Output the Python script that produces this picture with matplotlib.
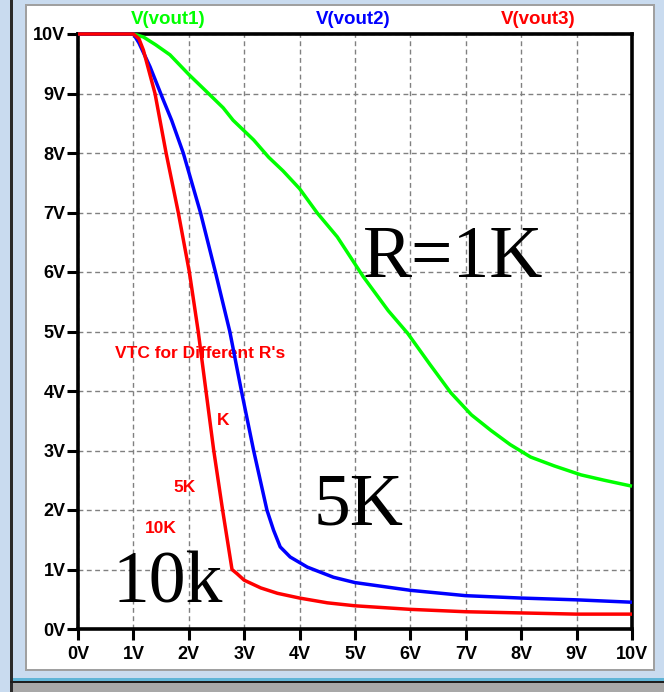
import matplotlib
matplotlib.use("Agg")
import matplotlib.pyplot as plt
from matplotlib.patches import Rectangle

# ---- data ----
x_vout1 = [0, 1.0, 1.18, 1.4, 1.66, 2.0, 2.3, 2.62, 2.8, 3.17, 3.44, 3.7, 4.0, 4.32,
           4.68, 5.15, 5.6, 5.95, 6.35, 6.73, 7.1, 7.45, 7.8, 8.17, 8.6, 9.08, 9.5, 10]
y_vout1 = [10, 10, 9.95, 9.82, 9.65, 9.32, 9.05, 8.76, 8.55, 8.22, 7.93, 7.7, 7.4, 6.99,
           6.59, 5.92, 5.35, 4.97, 4.45, 3.97, 3.6, 3.34, 3.1, 2.89, 2.74, 2.59, 2.5, 2.4]

x_vout2 = [0, 1.0, 1.1, 1.3, 1.54, 1.69, 1.9, 2.21, 2.48, 2.74, 2.95, 3.17, 3.41,
           3.53, 3.65, 3.83, 4.14, 4.61, 5.0, 6.0, 7.0, 8.0, 9.0, 10]
y_vout2 = [10, 10, 9.85, 9.45, 8.89, 8.55, 8.0, 7.0, 6.0, 5.0, 4.0, 3.0, 2.0,
           1.66, 1.38, 1.21, 1.04, 0.87, 0.78, 0.65, 0.56, 0.52, 0.49, 0.45]

x_vout3 = [0, 1.0, 1.1, 1.18, 1.39, 1.59, 1.81, 2.01, 2.17, 2.31, 2.45, 2.61, 2.78,
           2.87, 3.0, 3.3, 3.6, 4.0, 4.5, 5.0, 6.0, 7.0, 8.0, 9.0, 10]
y_vout3 = [10, 10, 9.92, 9.73, 9.0, 8.0, 7.0, 6.0, 5.0, 4.0, 3.0, 2.0, 1.0,
           0.93, 0.82, 0.69, 0.6, 0.52, 0.44, 0.39, 0.33, 0.29, 0.27, 0.25, 0.25]

series_names = ["V(vout1)", "V(vout2)", "V(vout3)"]
tick_values = list(range(11))
tick_labels = [f"{v}V" for v in tick_values]

W, H = 664, 692
fig = plt.figure(figsize=(W / 100, H / 100), dpi=100)
fig.patch.set_facecolor("#c9dbef")


def px_rect(x0, y0, x1, y1, color, z=-10):
    fig.patches.append(Rectangle((x0 / W, 1 - y1 / H), (x1 - x0) / W, (y1 - y0) / H,
                                 transform=fig.transFigure, facecolor=color,
                                 edgecolor="none", zorder=z))


# window frame
px_rect(10, 0, 13, 692, "#2a2a2a")
px_rect(25, 4, 655, 671, "#a0a0a0")
px_rect(27, 6, 653, 669, "#ffffff")
px_rect(13, 678, 664, 681, "#5fb4d6")
px_rect(10, 681, 664, 683, "#1e1e1e")
px_rect(13, 683, 664, 692, "#a8a8a8")

ax = fig.add_axes([78 / W, 1 - 629 / H, (632 - 78) / W, (629 - 34) / H])
ax.set_facecolor("white")
ax.set_xlim(0, 10)
ax.set_ylim(0, 10)

colors = ["#00ff00", "#0000ff", "#ff0000"]
for xs, ys, c in [(x_vout1, y_vout1, colors[0]), (x_vout2, y_vout2, colors[1]),
                  (x_vout3, y_vout3, colors[2])]:
    ax.plot(xs, ys, color=c, lw=2.5, clip_on=False, zorder=5,
            solid_joinstyle="round", solid_capstyle="butt")

ax.set_xticks(tick_values)
ax.set_xticklabels(tick_labels)
ax.set_yticks(tick_values)
ax.set_yticklabels(tick_labels)
for lab in ax.get_xticklabels() + ax.get_yticklabels():
    lab.set_fontfamily(["Liberation Sans", "DejaVu Sans"])
    lab.set_fontweight("bold")
    lab.set_fontsize(13)
ax.tick_params(axis="x", direction="out", length=8, width=2.2, pad=4, color="black")
ax.tick_params(axis="y", direction="out", length=8, width=2.2, pad=1, color="black")
ax.grid(True, color="#808080", lw=1.0, linestyle=(0, (3.5, 2.5)))
ax.set_axisbelow(True)
for s in ax.spines.values():
    s.set_linewidth(2.6)
    s.set_color("black")
    s.set_zorder(4)

# annotations
small = dict(family=["Liberation Sans", "DejaVu Sans"], weight="bold", size=12.5,
             color="#ff0000", zorder=3)
ax.text(0.67, 4.55, "VTC for Different R's", **small)
ax.text(2.51, 3.43, "K", **small)
ax.text(1.72, 2.30, "5K", **small)
ax.text(1.21, 1.61, "10K", **small)

big = dict(family=["Liberation Serif", "DejaVu Serif"], size=53, color="black", zorder=6)
ax.text(5.14, 5.92, "R=1K", **big)
ax.text(4.25, 1.75, "5K", **big)
ax.text(0.63, 0.44, "10k", **big)

# trace names on top
for name, c, xc in zip(series_names, colors, [168, 353, 538]):
    fig.text(xc / W, 1 - 19 / H, name, color=c, ha="center", va="center",
             family=["Liberation Sans", "DejaVu Sans"], weight="bold", size=13.5)

fig.savefig("out.png", dpi=100)
